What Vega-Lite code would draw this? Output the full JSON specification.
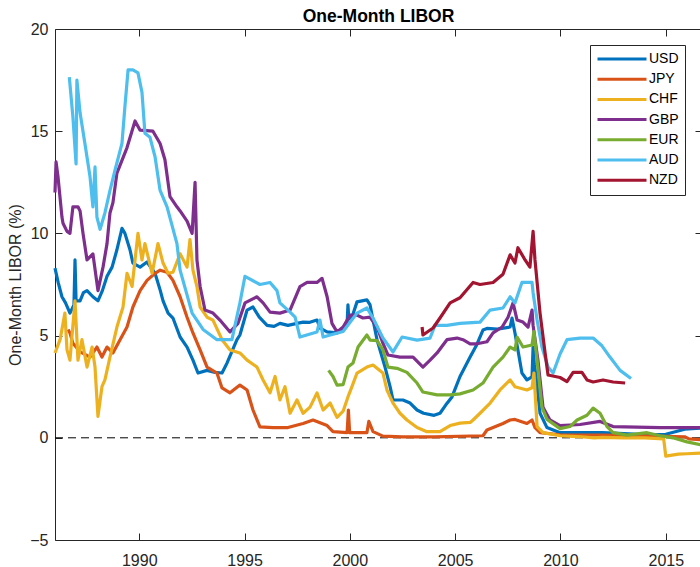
{
  "$schema": "https://vega.github.io/schema/vega-lite/v6.json",
  "width": 647,
  "height": 511,
  "autosize": {"type": "none"},
  "padding": {"left": 55, "top": 29, "right": -2, "bottom": 27},
  "title": {"text": "One-Month LIBOR", "fontSize": 17.5, "fontWeight": "bold", "color": "#000000", "anchor": "middle", "offset": 4, "baseline": "bottom", "dy": 26, "font": "Liberation Sans"},
  "resolve": {"axis": {"x": "independent", "y": "independent"}},
  "layer": [
    {
      "data": {"values": [{}]},
      "mark": {"type": "rule", "strokeDash": [8, 5], "color": "#000000", "strokeWidth": 1},
      "encoding": {
        "x": {"datum": 1986, "type": "quantitative", "scale": {"domain": [1986, 2016.72], "nice": false, "zero": false}, "axis": {"orient": "top", "labels": false, "title": null, "values": [1990, 1995, 2000, 2005, 2010, 2015], "minExtent": 0, "maxExtent": 0}},
        "x2": {"datum": 2016.72},
        "y": {"datum": 0, "type": "quantitative", "scale": {"domain": [-5, 20], "nice": false, "zero": false}, "axis": {"orient": "right", "labels": false, "title": null, "values": [-5, 0, 5, 10, 15, 20], "minExtent": 0, "maxExtent": 0}}
      }
    },
    {
      "data": {"values": [
{"currency":"USD","year":1986.00,"rate":8.3},{"currency":"USD","year":1986.15,"rate":7.6},{"currency":"USD","year":1986.33,"rate":6.9},{"currency":"USD","year":1986.50,"rate":6.6},{"currency":"USD","year":1986.71,"rate":6.1},{"currency":"USD","year":1986.90,"rate":6.5},{"currency":"USD","year":1986.95,"rate":8.7},{"currency":"USD","year":1987.00,"rate":6.7},{"currency":"USD","year":1987.19,"rate":6.7},{"currency":"USD","year":1987.35,"rate":7.1},{"currency":"USD","year":1987.52,"rate":7.2},{"currency":"USD","year":1987.80,"rate":6.9},{"currency":"USD","year":1988.04,"rate":6.7},{"currency":"USD","year":1988.25,"rate":7.2},{"currency":"USD","year":1988.47,"rate":7.9},{"currency":"USD","year":1988.71,"rate":8.35},{"currency":"USD","year":1988.94,"rate":9.2},{"currency":"USD","year":1989.18,"rate":10.25},{"currency":"USD","year":1989.32,"rate":10.0},{"currency":"USD","year":1989.56,"rate":9.2},{"currency":"USD","year":1989.70,"rate":8.55},{"currency":"USD","year":1990.04,"rate":8.35},{"currency":"USD","year":1990.37,"rate":8.6},{"currency":"USD","year":1990.75,"rate":8.05},{"currency":"USD","year":1991.00,"rate":7.2},{"currency":"USD","year":1991.13,"rate":6.7},{"currency":"USD","year":1991.37,"rate":6.1},{"currency":"USD","year":1991.60,"rate":5.86},{"currency":"USD","year":1991.94,"rate":4.93},{"currency":"USD","year":1992.27,"rate":4.44},{"currency":"USD","year":1992.55,"rate":3.8},{"currency":"USD","year":1992.79,"rate":3.17},{"currency":"USD","year":1993.22,"rate":3.3},{"currency":"USD","year":1993.60,"rate":3.2},{"currency":"USD","year":1993.93,"rate":3.17},{"currency":"USD","year":1994.17,"rate":3.66},{"currency":"USD","year":1994.64,"rate":4.8},{"currency":"USD","year":1994.78,"rate":5.03},{"currency":"USD","year":1995.12,"rate":6.25},{"currency":"USD","year":1995.40,"rate":6.4},{"currency":"USD","year":1995.70,"rate":5.9},{"currency":"USD","year":1996.07,"rate":5.5},{"currency":"USD","year":1996.40,"rate":5.45},{"currency":"USD","year":1996.68,"rate":5.6},{"currency":"USD","year":1997.06,"rate":5.5},{"currency":"USD","year":1997.49,"rate":5.6},{"currency":"USD","year":1997.78,"rate":5.66},{"currency":"USD","year":1998.10,"rate":5.65},{"currency":"USD","year":1998.44,"rate":5.76},{"currency":"USD","year":1998.58,"rate":5.37},{"currency":"USD","year":1998.92,"rate":5.18},{"currency":"USD","year":1999.39,"rate":5.13},{"currency":"USD","year":1999.70,"rate":5.4},{"currency":"USD","year":1999.87,"rate":5.6},{"currency":"USD","year":1999.91,"rate":6.5},{"currency":"USD","year":1999.95,"rate":5.8},{"currency":"USD","year":2000.10,"rate":5.9},{"currency":"USD","year":2000.34,"rate":6.65},{"currency":"USD","year":2000.81,"rate":6.75},{"currency":"USD","year":2000.96,"rate":6.5},{"currency":"USD","year":2001.10,"rate":5.76},{"currency":"USD","year":2001.29,"rate":4.8},{"currency":"USD","year":2001.53,"rate":3.95},{"currency":"USD","year":2001.67,"rate":3.46},{"currency":"USD","year":2001.91,"rate":2.5},{"currency":"USD","year":2002.05,"rate":1.85},{"currency":"USD","year":2002.52,"rate":1.85},{"currency":"USD","year":2002.86,"rate":1.7},{"currency":"USD","year":2003.19,"rate":1.36},{"currency":"USD","year":2003.50,"rate":1.2},{"currency":"USD","year":2004.00,"rate":1.1},{"currency":"USD","year":2004.28,"rate":1.2},{"currency":"USD","year":2004.55,"rate":1.6},{"currency":"USD","year":2004.85,"rate":2.0},{"currency":"USD","year":2005.23,"rate":3.0},{"currency":"USD","year":2005.71,"rate":3.95},{"currency":"USD","year":2006.00,"rate":4.5},{"currency":"USD","year":2006.32,"rate":5.27},{"currency":"USD","year":2006.51,"rate":5.35},{"currency":"USD","year":2007.00,"rate":5.32},{"currency":"USD","year":2007.61,"rate":5.42},{"currency":"USD","year":2007.70,"rate":5.86},{"currency":"USD","year":2007.84,"rate":5.13},{"currency":"USD","year":2007.98,"rate":4.3},{"currency":"USD","year":2008.17,"rate":3.17},{"currency":"USD","year":2008.41,"rate":2.83},{"currency":"USD","year":2008.65,"rate":2.98},{"currency":"USD","year":2008.70,"rate":4.44},{"currency":"USD","year":2008.76,"rate":3.6},{"currency":"USD","year":2008.84,"rate":3.0},{"currency":"USD","year":2009.03,"rate":1.2},{"currency":"USD","year":2009.36,"rate":0.5},{"currency":"USD","year":2009.98,"rate":0.25},{"currency":"USD","year":2011.00,"rate":0.25},{"currency":"USD","year":2012.00,"rate":0.25},{"currency":"USD","year":2013.00,"rate":0.2},{"currency":"USD","year":2014.00,"rate":0.16},{"currency":"USD","year":2015.00,"rate":0.17},{"currency":"USD","year":2015.90,"rate":0.42},{"currency":"USD","year":2016.70,"rate":0.48},
{"currency":"JPY","year":1986.62,"rate":5.3},{"currency":"JPY","year":1986.71,"rate":5.13},{"currency":"JPY","year":1986.85,"rate":4.63},{"currency":"JPY","year":1987.20,"rate":4.2},{"currency":"JPY","year":1987.66,"rate":3.95},{"currency":"JPY","year":1987.99,"rate":4.44},{"currency":"JPY","year":1988.23,"rate":3.95},{"currency":"JPY","year":1988.47,"rate":4.44},{"currency":"JPY","year":1988.75,"rate":4.15},{"currency":"JPY","year":1989.09,"rate":4.8},{"currency":"JPY","year":1989.42,"rate":5.42},{"currency":"JPY","year":1989.70,"rate":6.4},{"currency":"JPY","year":1990.04,"rate":7.2},{"currency":"JPY","year":1990.37,"rate":7.7},{"currency":"JPY","year":1990.75,"rate":8.05},{"currency":"JPY","year":1990.99,"rate":8.2},{"currency":"JPY","year":1991.32,"rate":8.1},{"currency":"JPY","year":1991.60,"rate":7.7},{"currency":"JPY","year":1991.94,"rate":6.9},{"currency":"JPY","year":1992.27,"rate":5.9},{"currency":"JPY","year":1992.55,"rate":5.13},{"currency":"JPY","year":1992.89,"rate":4.3},{"currency":"JPY","year":1993.22,"rate":3.46},{"currency":"JPY","year":1993.69,"rate":3.17},{"currency":"JPY","year":1993.93,"rate":2.44},{"currency":"JPY","year":1994.31,"rate":2.2},{"currency":"JPY","year":1994.78,"rate":2.58},{"currency":"JPY","year":1995.12,"rate":2.34},{"currency":"JPY","year":1995.40,"rate":1.36},{"currency":"JPY","year":1995.73,"rate":0.53},{"currency":"JPY","year":1996.35,"rate":0.5},{"currency":"JPY","year":1997.06,"rate":0.5},{"currency":"JPY","year":1997.78,"rate":0.7},{"currency":"JPY","year":1998.25,"rate":0.87},{"currency":"JPY","year":1998.92,"rate":0.6},{"currency":"JPY","year":1999.20,"rate":0.3},{"currency":"JPY","year":1999.87,"rate":0.25},{"currency":"JPY","year":1999.93,"rate":1.36},{"currency":"JPY","year":1999.99,"rate":0.25},{"currency":"JPY","year":2000.81,"rate":0.25},{"currency":"JPY","year":2000.90,"rate":0.8},{"currency":"JPY","year":2001.10,"rate":0.3},{"currency":"JPY","year":2001.57,"rate":0.08},{"currency":"JPY","year":2002.50,"rate":0.05},{"currency":"JPY","year":2004.00,"rate":0.05},{"currency":"JPY","year":2006.32,"rate":0.1},{"currency":"JPY","year":2006.51,"rate":0.38},{"currency":"JPY","year":2007.27,"rate":0.7},{"currency":"JPY","year":2007.61,"rate":0.87},{"currency":"JPY","year":2007.84,"rate":0.9},{"currency":"JPY","year":2008.41,"rate":0.7},{"currency":"JPY","year":2008.65,"rate":0.87},{"currency":"JPY","year":2008.79,"rate":0.5},{"currency":"JPY","year":2009.03,"rate":0.25},{"currency":"JPY","year":2009.98,"rate":0.15},{"currency":"JPY","year":2012.00,"rate":0.13},{"currency":"JPY","year":2014.00,"rate":0.1},{"currency":"JPY","year":2015.90,"rate":0.05},{"currency":"JPY","year":2016.10,"rate":-0.05},{"currency":"JPY","year":2016.70,"rate":-0.1},
{"currency":"CHF","year":1986.00,"rate":4.15},{"currency":"CHF","year":1986.24,"rate":4.8},{"currency":"CHF","year":1986.47,"rate":6.1},{"currency":"CHF","year":1986.57,"rate":4.3},{"currency":"CHF","year":1986.71,"rate":3.8},{"currency":"CHF","year":1986.95,"rate":6.7},{"currency":"CHF","year":1987.09,"rate":3.8},{"currency":"CHF","year":1987.28,"rate":4.8},{"currency":"CHF","year":1987.52,"rate":3.46},{"currency":"CHF","year":1987.76,"rate":4.44},{"currency":"CHF","year":1987.90,"rate":3.46},{"currency":"CHF","year":1988.04,"rate":1.05},{"currency":"CHF","year":1988.23,"rate":2.5},{"currency":"CHF","year":1988.37,"rate":2.83},{"currency":"CHF","year":1988.61,"rate":3.95},{"currency":"CHF","year":1988.94,"rate":5.42},{"currency":"CHF","year":1989.23,"rate":6.4},{"currency":"CHF","year":1989.42,"rate":8.05},{"currency":"CHF","year":1989.66,"rate":7.4},{"currency":"CHF","year":1989.94,"rate":10.0},{"currency":"CHF","year":1990.13,"rate":8.7},{"currency":"CHF","year":1990.27,"rate":9.5},{"currency":"CHF","year":1990.61,"rate":8.05},{"currency":"CHF","year":1990.89,"rate":9.5},{"currency":"CHF","year":1991.13,"rate":8.55},{"currency":"CHF","year":1991.37,"rate":8.05},{"currency":"CHF","year":1991.60,"rate":8.1},{"currency":"CHF","year":1991.94,"rate":9.0},{"currency":"CHF","year":1992.27,"rate":8.35},{"currency":"CHF","year":1992.41,"rate":9.7},{"currency":"CHF","year":1992.55,"rate":8.2},{"currency":"CHF","year":1992.74,"rate":7.4},{"currency":"CHF","year":1992.89,"rate":6.4},{"currency":"CHF","year":1993.22,"rate":5.9},{"currency":"CHF","year":1993.50,"rate":5.76},{"currency":"CHF","year":1993.93,"rate":4.8},{"currency":"CHF","year":1994.31,"rate":4.3},{"currency":"CHF","year":1994.78,"rate":4.15},{"currency":"CHF","year":1995.12,"rate":3.8},{"currency":"CHF","year":1995.59,"rate":3.46},{"currency":"CHF","year":1995.88,"rate":2.83},{"currency":"CHF","year":1996.21,"rate":2.2},{"currency":"CHF","year":1996.45,"rate":3.0},{"currency":"CHF","year":1996.68,"rate":1.85},{"currency":"CHF","year":1996.92,"rate":2.5},{"currency":"CHF","year":1997.16,"rate":1.2},{"currency":"CHF","year":1997.49,"rate":1.85},{"currency":"CHF","year":1997.78,"rate":1.2},{"currency":"CHF","year":1998.11,"rate":1.5},{"currency":"CHF","year":1998.44,"rate":2.2},{"currency":"CHF","year":1998.73,"rate":1.36},{"currency":"CHF","year":1999.06,"rate":1.7},{"currency":"CHF","year":1999.39,"rate":1.0},{"currency":"CHF","year":1999.68,"rate":1.3},{"currency":"CHF","year":1999.91,"rate":2.0},{"currency":"CHF","year":2000.10,"rate":2.5},{"currency":"CHF","year":2000.34,"rate":3.17},{"currency":"CHF","year":2000.81,"rate":3.46},{"currency":"CHF","year":2001.10,"rate":3.56},{"currency":"CHF","year":2001.57,"rate":3.17},{"currency":"CHF","year":2001.76,"rate":2.34},{"currency":"CHF","year":2002.05,"rate":1.7},{"currency":"CHF","year":2002.38,"rate":1.2},{"currency":"CHF","year":2002.71,"rate":0.87},{"currency":"CHF","year":2003.19,"rate":0.5},{"currency":"CHF","year":2003.66,"rate":0.3},{"currency":"CHF","year":2004.28,"rate":0.3},{"currency":"CHF","year":2004.76,"rate":0.6},{"currency":"CHF","year":2005.23,"rate":0.72},{"currency":"CHF","year":2005.71,"rate":0.75},{"currency":"CHF","year":2005.85,"rate":0.87},{"currency":"CHF","year":2006.18,"rate":1.2},{"currency":"CHF","year":2006.66,"rate":1.7},{"currency":"CHF","year":2007.13,"rate":2.34},{"currency":"CHF","year":2007.61,"rate":2.83},{"currency":"CHF","year":2007.84,"rate":2.5},{"currency":"CHF","year":2008.41,"rate":2.34},{"currency":"CHF","year":2008.65,"rate":2.45},{"currency":"CHF","year":2008.74,"rate":3.17},{"currency":"CHF","year":2008.89,"rate":0.55},{"currency":"CHF","year":2009.17,"rate":0.25},{"currency":"CHF","year":2009.98,"rate":0.1},{"currency":"CHF","year":2011.00,"rate":0.05},{"currency":"CHF","year":2011.60,"rate":0.0},{"currency":"CHF","year":2012.00,"rate":0.02},{"currency":"CHF","year":2013.00,"rate":0.0},{"currency":"CHF","year":2014.00,"rate":0.0},{"currency":"CHF","year":2014.90,"rate":-0.05},{"currency":"CHF","year":2015.00,"rate":-0.9},{"currency":"CHF","year":2015.60,"rate":-0.8},{"currency":"CHF","year":2016.00,"rate":-0.78},{"currency":"CHF","year":2016.70,"rate":-0.75},
{"currency":"GBP","year":1986.00,"rate":12.0},{"currency":"GBP","year":1986.05,"rate":13.5},{"currency":"GBP","year":1986.14,"rate":12.8},{"currency":"GBP","year":1986.33,"rate":10.8},{"currency":"GBP","year":1986.38,"rate":10.5},{"currency":"GBP","year":1986.57,"rate":10.1},{"currency":"GBP","year":1986.71,"rate":10.0},{"currency":"GBP","year":1986.85,"rate":11.3},{"currency":"GBP","year":1987.09,"rate":11.3},{"currency":"GBP","year":1987.19,"rate":11.1},{"currency":"GBP","year":1987.33,"rate":10.0},{"currency":"GBP","year":1987.52,"rate":8.7},{"currency":"GBP","year":1987.80,"rate":9.0},{"currency":"GBP","year":1988.04,"rate":7.2},{"currency":"GBP","year":1988.28,"rate":8.35},{"currency":"GBP","year":1988.47,"rate":9.5},{"currency":"GBP","year":1988.61,"rate":11.0},{"currency":"GBP","year":1988.75,"rate":11.5},{"currency":"GBP","year":1988.94,"rate":12.95},{"currency":"GBP","year":1989.42,"rate":14.2},{"currency":"GBP","year":1989.80,"rate":15.5},{"currency":"GBP","year":1990.04,"rate":15.05},{"currency":"GBP","year":1990.65,"rate":15.0},{"currency":"GBP","year":1990.99,"rate":14.4},{"currency":"GBP","year":1991.22,"rate":13.6},{"currency":"GBP","year":1991.46,"rate":11.8},{"currency":"GBP","year":1991.79,"rate":11.3},{"currency":"GBP","year":1991.94,"rate":11.1},{"currency":"GBP","year":1992.27,"rate":10.6},{"currency":"GBP","year":1992.51,"rate":10.0},{"currency":"GBP","year":1992.65,"rate":12.5},{"currency":"GBP","year":1992.74,"rate":8.7},{"currency":"GBP","year":1992.89,"rate":7.4},{"currency":"GBP","year":1993.12,"rate":6.25},{"currency":"GBP","year":1993.50,"rate":6.1},{"currency":"GBP","year":1993.83,"rate":5.76},{"currency":"GBP","year":1994.31,"rate":5.18},{"currency":"GBP","year":1994.69,"rate":5.6},{"currency":"GBP","year":1995.02,"rate":6.6},{"currency":"GBP","year":1995.59,"rate":6.9},{"currency":"GBP","year":1995.88,"rate":6.6},{"currency":"GBP","year":1996.21,"rate":6.15},{"currency":"GBP","year":1996.68,"rate":6.1},{"currency":"GBP","year":1997.16,"rate":6.25},{"currency":"GBP","year":1997.63,"rate":7.4},{"currency":"GBP","year":1997.97,"rate":7.6},{"currency":"GBP","year":1998.44,"rate":7.6},{"currency":"GBP","year":1998.68,"rate":7.8},{"currency":"GBP","year":1998.92,"rate":6.9},{"currency":"GBP","year":1999.15,"rate":5.6},{"currency":"GBP","year":1999.39,"rate":5.18},{"currency":"GBP","year":1999.68,"rate":5.42},{"currency":"GBP","year":2000.01,"rate":6.0},{"currency":"GBP","year":2000.34,"rate":6.0},{"currency":"GBP","year":2000.62,"rate":5.86},{"currency":"GBP","year":2000.96,"rate":5.9},{"currency":"GBP","year":2001.29,"rate":5.42},{"currency":"GBP","year":2001.57,"rate":4.63},{"currency":"GBP","year":2001.81,"rate":4.05},{"currency":"GBP","year":2002.38,"rate":3.95},{"currency":"GBP","year":2003.00,"rate":3.95},{"currency":"GBP","year":2003.47,"rate":3.46},{"currency":"GBP","year":2003.81,"rate":3.8},{"currency":"GBP","year":2004.14,"rate":4.15},{"currency":"GBP","year":2004.61,"rate":4.8},{"currency":"GBP","year":2005.09,"rate":4.88},{"currency":"GBP","year":2005.37,"rate":4.8},{"currency":"GBP","year":2005.71,"rate":4.6},{"currency":"GBP","year":2006.04,"rate":4.6},{"currency":"GBP","year":2006.51,"rate":4.7},{"currency":"GBP","year":2006.80,"rate":5.13},{"currency":"GBP","year":2007.23,"rate":5.42},{"currency":"GBP","year":2007.51,"rate":5.9},{"currency":"GBP","year":2007.75,"rate":6.6},{"currency":"GBP","year":2007.94,"rate":5.76},{"currency":"GBP","year":2008.22,"rate":5.66},{"currency":"GBP","year":2008.46,"rate":5.42},{"currency":"GBP","year":2008.65,"rate":6.25},{"currency":"GBP","year":2008.70,"rate":5.5},{"currency":"GBP","year":2008.93,"rate":3.8},{"currency":"GBP","year":2009.17,"rate":1.5},{"currency":"GBP","year":2009.50,"rate":0.87},{"currency":"GBP","year":2009.98,"rate":0.6},{"currency":"GBP","year":2010.93,"rate":0.65},{"currency":"GBP","year":2011.88,"rate":0.8},{"currency":"GBP","year":2012.50,"rate":0.55},{"currency":"GBP","year":2014.73,"rate":0.5},{"currency":"GBP","year":2016.70,"rate":0.5},
{"currency":"EUR","year":1998.99,"rate":3.3},{"currency":"EUR","year":1999.20,"rate":3.0},{"currency":"EUR","year":1999.39,"rate":2.58},{"currency":"EUR","year":1999.68,"rate":2.6},{"currency":"EUR","year":1999.91,"rate":3.46},{"currency":"EUR","year":2000.15,"rate":3.66},{"currency":"EUR","year":2000.39,"rate":4.44},{"currency":"EUR","year":2000.81,"rate":5.03},{"currency":"EUR","year":2000.96,"rate":4.78},{"currency":"EUR","year":2001.29,"rate":4.75},{"currency":"EUR","year":2001.57,"rate":4.3},{"currency":"EUR","year":2001.81,"rate":3.46},{"currency":"EUR","year":2002.24,"rate":3.4},{"currency":"EUR","year":2002.71,"rate":3.2},{"currency":"EUR","year":2003.19,"rate":2.68},{"currency":"EUR","year":2003.47,"rate":2.24},{"currency":"EUR","year":2004.14,"rate":2.1},{"currency":"EUR","year":2004.76,"rate":2.1},{"currency":"EUR","year":2005.23,"rate":2.15},{"currency":"EUR","year":2005.85,"rate":2.34},{"currency":"EUR","year":2006.32,"rate":2.68},{"currency":"EUR","year":2006.80,"rate":3.46},{"currency":"EUR","year":2007.27,"rate":3.95},{"currency":"EUR","year":2007.61,"rate":4.44},{"currency":"EUR","year":2007.84,"rate":4.3},{"currency":"EUR","year":2007.94,"rate":4.93},{"currency":"EUR","year":2008.22,"rate":4.44},{"currency":"EUR","year":2008.65,"rate":4.54},{"currency":"EUR","year":2008.74,"rate":5.2},{"currency":"EUR","year":2008.89,"rate":3.8},{"currency":"EUR","year":2009.12,"rate":1.5},{"currency":"EUR","year":2009.36,"rate":0.9},{"currency":"EUR","year":2009.98,"rate":0.45},{"currency":"EUR","year":2010.45,"rate":0.55},{"currency":"EUR","year":2010.79,"rate":0.87},{"currency":"EUR","year":2011.26,"rate":1.1},{"currency":"EUR","year":2011.55,"rate":1.45},{"currency":"EUR","year":2011.88,"rate":1.2},{"currency":"EUR","year":2012.21,"rate":0.55},{"currency":"EUR","year":2012.50,"rate":0.25},{"currency":"EUR","year":2013.16,"rate":0.13},{"currency":"EUR","year":2014.11,"rate":0.25},{"currency":"EUR","year":2014.73,"rate":0.1},{"currency":"EUR","year":2015.34,"rate":0.0},{"currency":"EUR","year":2016.01,"rate":-0.2},{"currency":"EUR","year":2016.70,"rate":-0.35},
{"currency":"AUD","year":1986.68,"rate":17.65},{"currency":"AUD","year":1986.85,"rate":15.7},{"currency":"AUD","year":1987.00,"rate":13.4},{"currency":"AUD","year":1987.04,"rate":17.5},{"currency":"AUD","year":1987.19,"rate":15.9},{"currency":"AUD","year":1987.42,"rate":14.4},{"currency":"AUD","year":1987.66,"rate":12.8},{"currency":"AUD","year":1987.80,"rate":11.3},{"currency":"AUD","year":1987.90,"rate":13.25},{"currency":"AUD","year":1987.99,"rate":10.8},{"currency":"AUD","year":1988.14,"rate":10.2},{"currency":"AUD","year":1988.37,"rate":11.0},{"currency":"AUD","year":1988.61,"rate":12.1},{"currency":"AUD","year":1988.85,"rate":13.1},{"currency":"AUD","year":1989.18,"rate":14.4},{"currency":"AUD","year":1989.32,"rate":16.2},{"currency":"AUD","year":1989.47,"rate":18.0},{"currency":"AUD","year":1989.70,"rate":18.0},{"currency":"AUD","year":1989.94,"rate":17.85},{"currency":"AUD","year":1990.13,"rate":16.9},{"currency":"AUD","year":1990.27,"rate":14.9},{"currency":"AUD","year":1990.51,"rate":14.7},{"currency":"AUD","year":1990.75,"rate":13.75},{"currency":"AUD","year":1990.99,"rate":12.1},{"currency":"AUD","year":1991.32,"rate":11.3},{"currency":"AUD","year":1991.79,"rate":9.5},{"currency":"AUD","year":1991.94,"rate":8.2},{"currency":"AUD","year":1992.51,"rate":6.1},{"currency":"AUD","year":1993.03,"rate":5.3},{"currency":"AUD","year":1993.69,"rate":4.8},{"currency":"AUD","year":1994.40,"rate":4.8},{"currency":"AUD","year":1994.78,"rate":6.6},{"currency":"AUD","year":1995.02,"rate":7.9},{"currency":"AUD","year":1995.73,"rate":7.5},{"currency":"AUD","year":1996.21,"rate":7.6},{"currency":"AUD","year":1996.54,"rate":7.2},{"currency":"AUD","year":1996.68,"rate":6.6},{"currency":"AUD","year":1997.16,"rate":6.15},{"currency":"AUD","year":1997.40,"rate":5.9},{"currency":"AUD","year":1997.63,"rate":4.93},{"currency":"AUD","year":1998.44,"rate":5.18},{"currency":"AUD","year":1998.58,"rate":5.76},{"currency":"AUD","year":1998.73,"rate":4.93},{"currency":"AUD","year":1999.68,"rate":5.2},{"currency":"AUD","year":2000.34,"rate":6.1},{"currency":"AUD","year":2000.81,"rate":6.35},{"currency":"AUD","year":2001.10,"rate":5.86},{"currency":"AUD","year":2001.57,"rate":4.88},{"currency":"AUD","year":2002.05,"rate":4.2},{"currency":"AUD","year":2002.48,"rate":4.93},{"currency":"AUD","year":2003.19,"rate":4.78},{"currency":"AUD","year":2003.81,"rate":4.88},{"currency":"AUD","year":2004.04,"rate":5.5},{"currency":"AUD","year":2004.61,"rate":5.5},{"currency":"AUD","year":2005.23,"rate":5.6},{"currency":"AUD","year":2006.18,"rate":5.66},{"currency":"AUD","year":2006.66,"rate":6.25},{"currency":"AUD","year":2007.27,"rate":6.35},{"currency":"AUD","year":2007.61,"rate":6.9},{"currency":"AUD","year":2007.84,"rate":6.6},{"currency":"AUD","year":2008.17,"rate":7.6},{"currency":"AUD","year":2008.65,"rate":7.6},{"currency":"AUD","year":2008.70,"rate":7.1},{"currency":"AUD","year":2008.89,"rate":5.76},{"currency":"AUD","year":2009.12,"rate":4.44},{"currency":"AUD","year":2009.41,"rate":3.46},{"currency":"AUD","year":2009.65,"rate":3.17},{"currency":"AUD","year":2009.98,"rate":4.1},{"currency":"AUD","year":2010.31,"rate":4.8},{"currency":"AUD","year":2010.93,"rate":4.88},{"currency":"AUD","year":2011.55,"rate":4.88},{"currency":"AUD","year":2011.97,"rate":4.5},{"currency":"AUD","year":2012.35,"rate":3.95},{"currency":"AUD","year":2012.83,"rate":3.3},{"currency":"AUD","year":2013.35,"rate":2.9},
{"currency":"NZD","year":2003.43,"rate":5.42},{"currency":"NZD","year":2003.47,"rate":5.03},{"currency":"NZD","year":2003.95,"rate":5.37},{"currency":"NZD","year":2004.28,"rate":5.86},{"currency":"NZD","year":2004.76,"rate":6.6},{"currency":"NZD","year":2005.23,"rate":6.85},{"currency":"NZD","year":2005.85,"rate":7.6},{"currency":"NZD","year":2006.18,"rate":7.5},{"currency":"NZD","year":2006.80,"rate":7.6},{"currency":"NZD","year":2007.27,"rate":8.0},{"currency":"NZD","year":2007.61,"rate":8.95},{"currency":"NZD","year":2007.84,"rate":8.55},{"currency":"NZD","year":2007.98,"rate":9.3},{"currency":"NZD","year":2008.32,"rate":8.7},{"currency":"NZD","year":2008.55,"rate":8.35},{"currency":"NZD","year":2008.70,"rate":10.1},{"currency":"NZD","year":2008.79,"rate":8.7},{"currency":"NZD","year":2009.03,"rate":6.1},{"currency":"NZD","year":2009.27,"rate":4.15},{"currency":"NZD","year":2009.41,"rate":3.07},{"currency":"NZD","year":2009.98,"rate":2.95},{"currency":"NZD","year":2010.31,"rate":2.75},{"currency":"NZD","year":2010.60,"rate":3.2},{"currency":"NZD","year":2011.02,"rate":3.2},{"currency":"NZD","year":2011.26,"rate":2.83},{"currency":"NZD","year":2011.55,"rate":2.73},{"currency":"NZD","year":2012.02,"rate":2.83},{"currency":"NZD","year":2012.50,"rate":2.73},{"currency":"NZD","year":2013.07,"rate":2.68}
      ]},
      "mark": {"type": "line", "strokeWidth": 3.2, "strokeJoin": "round"},
      "encoding": {
        "x": {"field": "year", "type": "quantitative", "scale": {"domain": [1986, 2016.72], "nice": false, "zero": false}, "axis": {"orient": "bottom", "title": null, "values": [1990, 1995, 2000, 2005, 2010, 2015], "format": "d", "labelPadding": 19}},
        "y": {"field": "rate", "type": "quantitative", "scale": {"domain": [-5, 20], "nice": false, "zero": false}, "axis": {"orient": "left", "title": "One-Month LIBOR (%)", "values": [-5, 0, 5, 10, 15, 20], "labelPadding": 14, "titleX": -40, "titleY": 255.5, "titleAlign": "center", "titleBaseline": "middle", "titleAngle": -90}},
        "color": {"field": "currency", "type": "nominal", "sort": ["USD", "JPY", "CHF", "GBP", "EUR", "AUD", "NZD"], "scale": {"domain": ["USD", "JPY", "CHF", "GBP", "EUR", "AUD", "NZD"], "range": ["#0072BD", "#D95319", "#EDB120", "#7E2F8E", "#77AC30", "#4DBEEE", "#A2142F"]}, "legend": {"title": null, "orient": "none", "legendX": 535, "legendY": 16}}
      }
    }
  ],
  "config": {
    "font": "Liberation Sans",
    "view": {"stroke": null},
    "axis": {"grid": false, "domainColor": "#262626", "domainWidth": 1, "tickColor": "#262626", "tickWidth": 1, "tickSize": -7, "labelColor": "#262626", "labelFontSize": 16, "labelFont": "Liberation Sans", "titleColor": "#262626", "titleFontSize": 16, "titleFontWeight": "normal", "titleFont": "Liberation Sans"},
    "legend": {"symbolType": "stroke", "symbolSize": 2401, "symbolStrokeWidth": 3, "clipHeight": 16, "rowPadding": 4.2, "padding": 6, "labelFontSize": 14, "labelOffset": 1, "labelColor": "#000000", "labelFont": "Liberation Sans", "strokeColor": "#262626", "fillColor": "#ffffff", "cornerRadius": 0}
  }
}
